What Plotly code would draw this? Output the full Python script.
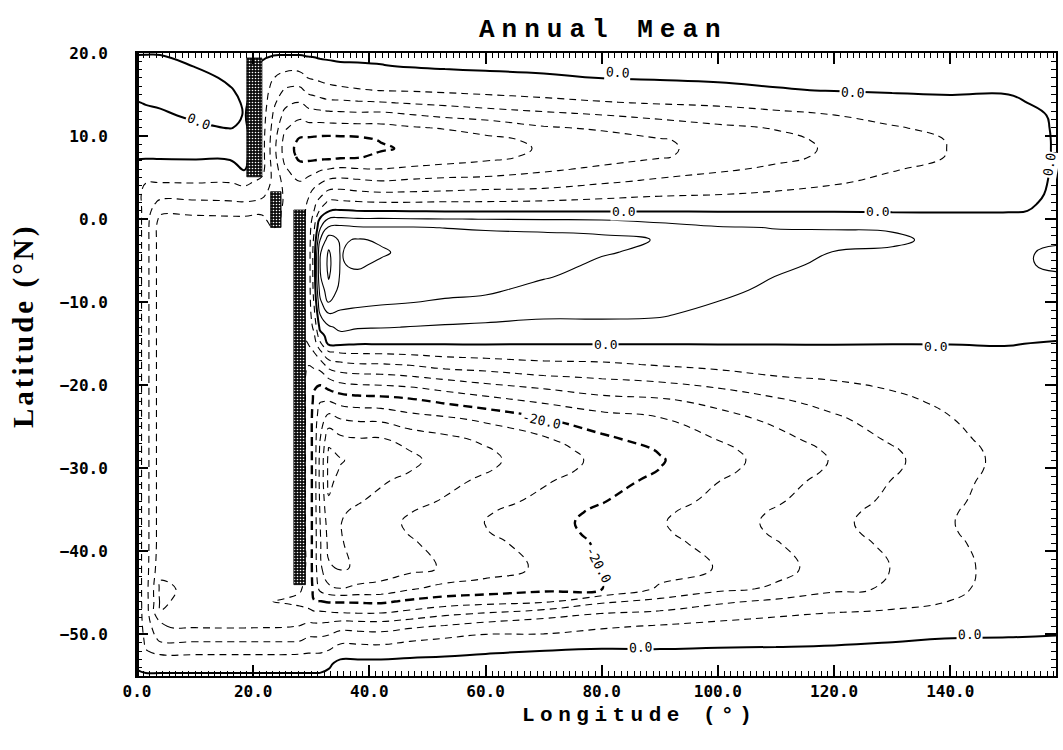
import numpy as np
import plotly.graph_objects as go

# Grid rows (latitude, north to south) and columns (longitude)
lat = [20, 18.5, 17, 15.5, 14, 12.5, 11, 9.5, 8.5, 7.5, 6, 4.5, 3, 2, 1,
       0, -1, -2.5, -4, -5.5, -7, -8.5, -10, -11.5, -13, -14, -15,
       -16, -17.5, -19, -20.5, -22, -24, -26.5, -27.75, -29, -30.25, -31.5,
       -34, -35.25, -36.5, -37.75, -39, -42,
       -44.5, -46, -47.5, -49, -50.5, -52, -53.5, -55]

lon = [0, 1.5, 4, 10, 16, 18.5, 21.5, 23.5, 25.5, 28, 29.5, 30.5, 31.5, 33, 35,
       38, 42, 47, 53, 60, 70, 80, 90, 100, 110, 120, 130, 140, 150, 158.2]

# Annual-mean transport streamfunction along each meridian (same row order as lat)
psi_000 = [0.3, -1.5, -1.5, -1.2, 0.2, 1.2, 1.5, 1.5, 1.3, 0.5, -2.0, -3.0, -2.5, -2.0, -1.5,
           -1.5, -1.5, -1.5, -1.5, -1.5, -1.5, -1.5, -1.5, -1.5, -1.5, -1.5, -1.5,
           -1.5, -1.5, -1.5, -1.5, -1.5, -1.5, -1.5, -1.5, -1.5, -1.5, -1.5,
           -1.5, -1.5, -1.5, -1.5, -1.5, -1.5,
           -1.5, -1.5, -1.5, -1.5, -1.2, -1.0, -0.5, 0.5]
psi_015 = [0.3, -1.8, -1.8, -1.5, -0.2, 1.0, 1.5, 1.6, 1.4, 0.4, -2.2, -3.8, -5.5, -6.0, -6.2,
           -6.3, -6.3, -6.3, -6.3, -6.3, -6.3, -6.3, -6.3, -6.3, -6.3, -6.3, -6.3,
           -6.3, -6.3, -6.3, -6.3, -6.3, -6.3, -6.3, -6.3, -6.3, -6.3, -6.3,
           -6.3, -6.3, -6.3, -6.3, -6.3, -6.3,
           -6.3, -6.2, -6.0, -5.5, -4.8, -3.8, -1.5, 0.5]
psi_040 = [0.3, -1.5, -1.5, -1.2, -0.6, 0.7, 1.5, 1.7, 1.5, 0.5, -2.3, -3.8, -6.6, -8.8, -11.0,
           -13.0, -14, -14, -14, -14, -14, -14, -14, -14, -14, -14, -14,
           -14, -14, -14, -14, -14, -14, -14, -14, -14, -14, -14,
           -14, -14, -14, -14, -14, -14.8,
           -16.8, -16.5, -15.8, -11.9, -9.0, -5.0, -1.5, 0.5]
psi_100 = [1.0, 0.2, -1.2, -1.6, -1.5, -0.8, 0.9, 1.7, 1.6, 0.6, -2.2, -3.7, -6.6, -8.6, -10.8,
           -13.0, -14, -14, -14, -14, -14, -14, -14, -14, -14, -14, -14,
           -14, -14, -14, -14, -14, -14, -14, -14, -14, -14, -14,
           -14, -14, -14, -14, -14, -14.2,
           -15.0, -14.8, -14.2, -12.4, -9.0, -5.0, -1.5, 0.5]
psi_160 = [1.0, 1.0, 0.6, -0.3, -0.8, -0.8, -0.1, 1.2, 1.3, 0.6, -1.8, -3.8, -6.4, -8.4, -10.6,
           -12.8, -14, -14, -14, -14, -14, -14, -14, -14, -14, -14, -14,
           -14, -14, -14, -14, -14, -14, -14, -14, -14, -14, -14,
           -14, -14, -14, -14, -14, -14,
           -14.2, -14.4, -14.0, -12.5, -9.0, -5.0, -1.5, 0.5]
psi_185 = [1.0, 1.0, 1.0, 0.8, 0.3, 0.15, 0.4, 1.0, 1.0, 0.6, 0.2, -3.0, -6.0, -8.2, -10.5,
           -12.8, -14, -14, -14, -14, -14, -14, -14, -14, -14, -14, -14,
           -14, -14, -14, -14, -14, -14, -14, -14, -14, -14, -14,
           -14, -14, -14, -14, -14, -14,
           -14.2, -14.8, -14.0, -12.5, -9.0, -5.0, -1.5, 0.5]
psi_215 = [0.5, -0.3, -0.8, -1.2, -1.5, -1.8, -2.0, -2.2, -2.2, -2.2, -2.5, -5.0, -7.0, -9.0, -11.0,
           -13.0, -14, -14, -14, -14, -14, -14, -14, -14, -14, -14, -14,
           -14, -14, -14, -14, -14, -14, -14, -14, -14, -14, -14,
           -14, -14, -14, -14, -14, -14,
           -14.2, -15.2, -14.0, -12.4, -9.0, -5.0, -1.5, 0.5]
psi_235 = [0.5, -2.0, -3.9, -5.8, -7.2, -8.5, -9.5, -10.3, -10.5, -10.3, -9.5, -9.0, -10.0, -10.0, -10.0,
           -10.0, -11.9, -14, -14, -14, -14, -14, -14, -14, -14, -14, -14,
           -14, -14, -14, -14, -14, -14, -14, -14, -14, -14, -14,
           -14, -14, -14, -14, -14, -14,
           -14.3, -16.1, -14.1, -12.4, -9.0, -5.0, -1.5, 0.5]
psi_255 = [0.5, -2.5, -5.5, -8.5, -11.0, -13.3, -15.5, -17.5, -18.0, -17.5, -15.5, -13.5, -12.5, -12.5, -13.0,
           -13.5, -14, -14, -14, -14, -14, -14, -14, -14, -14, -14, -14,
           -14, -14, -14, -14, -14, -14, -14, -14, -14, -14, -14,
           -14, -14, -14, -14, -14, -14,
           -14.5, -16.4, -14.2, -12.3, -9.0, -5.0, -1.5, 0.5]
psi_280 = [0.5, -2.5, -5.5, -9.0, -12.1, -15.0, -18.0, -20.5, -21.3, -20.8, -18.5, -15.9, -15.0, -14.5, -14.0,
           -14, -14, -14, -14, -14, -14, -14, -14, -14, -14, -14, -14,
           -14, -14, -14, -14, -14, -14, -14, -14, -14, -14, -14,
           -14, -14, -14, -14, -14, -14,
           -15.5, -17.0, -14.4, -11.9, -8.8, -4.8, -1.5, 0.5]
psi_295 = [0.6, -1.5, -3.9, -7.0, -10.5, -14.0, -17.5, -20.8, -21.8, -21.0, -18.0, -14.5, -12.5, -11.5, -11.0,
           -11.0, -10.5, -10.5, -10.5, -10.5, -10.5, -10.5, -10.5, -10.5, -10.5, -10.5, -11.9,
           -14.0, -15.9, -17, -17, -17, -17, -17, -17, -17, -17, -17,
           -17, -17, -17, -17, -17, -17,
           -17.5, -18.0, -14.5, -11.0, -7.5, -4.5, -1.5, 0.5]
psi_305 = [0.6, -1.2, -3.6, -6.5, -10.0, -13.9, -17.5, -21.0, -22.0, -21.0, -17.5, -13.5, -10.5, -9.0, -7.9,
           -6.0, -4.5, -3.0, -2.0, -2.0, -2.0, -2.5, -3.5, -5.0, -7.0, -8.5, -10.0,
           -11.9, -15, -18, -19.9, -21, -22, -22, -22, -22, -22, -22,
           -22, -22, -22, -22, -22, -22,
           -21, -19.9, -15, -11, -7.5, -4.5, -1.5, 0.5]
psi_315 = [0.7, -0.8, -3.2, -6.0, -9.5, -13.8, -17.6, -21.2, -22.3, -21.0, -16.5, -12.5, -9.0, -6.5, -3.5,
           0.5, 3.5, 7.9, 11.5, 11.9, 11.5, 9.5, 7.0, 3.9, 1.0, -1.5, -5.0,
           -9, -14, -18, -21, -23.9, -26, -27.9, -28.5, -29, -29, -29,
           -28.5, -28.2, -27.9, -27.7, -27.5, -27,
           -25, -19.9, -15, -11, -7.5, -4.5, -1.5, 0.5]
psi_330 = [0.8, -0.6, -2.8, -5.2, -9.0, -13.5, -17.6, -21.3, -22.5, -21.0, -15.9, -11.0, -6.5, -3.0, -0.1,
           4.5, 8.5, 14.0, 16.5, 17.0, 16.3, 14.5, 12.3, 7.5, 3.5, 1.5, 0.8,
           -4.4, -10.2, -15.4, -19.9, -24.3, -29.5, -34.8, -36.3, -37.0, -37.0, -37.0,
           -35.6, -34.75, -33.9, -33.45, -33.0, -31.5,
           -27.0, -20.5, -15.3, -10.5, -7.0, -3.8, -0.6, 0.8]
psi_350 = [1.0, -0.4, -2.4, -4.8, -8.9, -13.3, -17.5, -21.2, -22.4, -20.6, -15.3, -10.6, -6.3, -3.3, 0.4,
           4.8, 9.0, 11.5, 11.8, 11.8, 11.6, 11.0, 9.5, 7.1, 4.8, 3.2, 0.6,
           -3.6, -9.1, -13.8, -18.5, -22.9, -27.9, -33.0, -35.2, -36.2, -35.8, -34.8,
           -33.4, -32.5, -32.1, -32.1, -32.2, -32.4,
           -27.9, -20.5, -15.6, -9.4, -5.5, -2.0, 1.0, 1.5]
psi_380 = [1.0, -0.3, -2.2, -4.3, -8.6, -13.1, -17.4, -21.0, -21.9, -20.4, -15.7, -11.1, -6.9, -3.6, -0.05,
           4.4, 8.3, 12.3, 13.0, 12.4, 11.3, 10.0, 8.8, 6.9, 4.3, 2.6, 0.2,
           -3.4, -8.3, -13.3, -17.8, -22.3, -27.3, -32.3, -34.5, -35.4, -35.0, -33.9,
           -32.3, -31.25, -30.8, -30.9, -31.2, -31.6,
           -27.0, -20.6, -15.8, -9.6, -5.6, -2.0, 1.0, 1.5]
psi_420 = [1.0, -0.1, -2.1, -3.9, -8.3, -13.3, -17.2, -19.8, -20.5, -19.0, -15.9, -11.7, -7.3, -3.9, -0.05,
           4.4, 8.2, 11.6, 12.4, 11.5, 10.5, 9.4, 8.4, 6.6, 4.2, 2.3, 0.2,
           -3.3, -8.3, -13.0, -17.5, -22.0, -27.1, -32.4, -33.7, -34.2, -33.7, -32.5,
           -30.9, -29.7, -29.2, -29.4, -29.9, -30.5,
           -26.5, -20.8, -15.7, -9.8, -5.8, -2.1, 1.0, 1.5]
psi_470 = [1.0, 0.3, -1.7, -3.7, -7.7, -12.3, -16.4, -19.0, -19.4, -18.9, -15.2, -11.2, -7.2, -3.9, -0.2,
           4.2, 8.2, 10.6, 11.2, 10.9, 10.2, 9.2, 8.1, 6.1, 3.9, 2.1, 0.2,
           -3.0, -7.7, -12.3, -16.9, -21.1, -25.5, -30.4, -31.9, -32.6, -32.1, -30.9,
           -29.2, -28.1, -27.5, -27.8, -28.4, -29.2,
           -24.4, -19.4, -14.6, -8.7, -4.8, -1.2, 1.0, 1.5]
psi_530 = [1.0, 0.5, -1.2, -3.3, -7.1, -11.2, -15.7, -18.2, -18.5, -18.1, -14.5, -10.8, -7.0, -3.7, -0.3,
           4.1, 7.9, 9.8, 10.5, 10.2, 9.6, 8.9, 7.6, 5.6, 3.6, 1.9, 0.2,
           -2.6, -6.3, -11.1, -15.4, -19.5, -24.6, -29.0, -30.3, -30.9, -30.4, -29.2,
           -27.6, -26.4, -25.9, -26.2, -26.8, -27.6,
           -22.7, -18.3, -12.8, -7.7, -3.9, -0.8, 1.0, 1.5]
psi_600 = [1.0, 0.6, -0.8, -2.9, -6.2, -10.4, -14.6, -16.95, -17.2, -16.95, -14.1, -10.5, -6.5, -3.7, -0.3,
           3.95, 7.6, 9.2, 9.8, 9.6, 9.1, 8.6, 7.2, 5.3, 3.3, 1.8, 0.2,
           -2.1, -5.9, -9.9, -13.9, -17.8, -23.1, -27.3, -28.35, -28.8, -28.3, -27.2,
           -25.6, -24.4, -23.9, -24.2, -25.0, -25.9,
           -22.1, -17.5, -11.6, -6.3, -2.8, -0.3, 1.0, 1.5]
psi_700 = [1.0, 0.7, -0.4, -2.5, -5.1, -9.2, -12.4, -15.3, -15.7, -15.2, -12.6, -9.9, -6.3, -3.4, -0.3,
           3.8, 7.5, 8.8, 9.0, 8.8, 8.2, 7.0, 5.8, 4.6, 2.9, 1.6, 0.1,
           -1.8, -4.9, -8.4, -12.2, -15.6, -20.1, -24.6, -25.6, -26.0, -25.55, -24.5,
           -22.9, -21.85, -21.4, -21.7, -22.4, -23.3,
           -20.9, -16.8, -9.7, -5.3, -3.2, 0.05, 1.0, 1.5]
psi_800 = [1.0, 0.8, 0.05, -1.9, -4.3, -8.1, -11.5, -13.55, -13.8, -13.5, -11.3, -8.5, -5.3, -2.9, -0.3,
           3.6, 7.3, 8.5, 8.2, 7.6, 6.9, 6.2, 5.4, 4.5, 3.1, 1.7, 0.1,
           -1.6, -4.6, -7.6, -10.4, -13.8, -17.5, -20.9, -22.45, -23.1, -22.7, -21.7,
           -20.2, -19.2, -18.8, -18.98, -19.4, -19.8,
           -20.1, -12.8, -7.9, -4.5, -2.2, 0.5, 1.0, 1.5]
psi_900 = [1.0, 0.9, 0.3, -1.6, -3.7, -7.1, -9.9, -12.35, -12.5, -12.3, -9.7, -7.3, -4.5, -2.4, -0.2,
           2.6, 5.8, 7.9, 7.5, 7.0, 6.5, 6.0, 5.3, 4.3, 3.0, 1.8, 0.1,
           -1.4, -3.7, -6.7, -9.9, -12.9, -16.2, -18.3, -19.7, -20.3, -19.9, -19.0,
           -17.6, -16.7, -16.3, -16.55, -17.1, -17.9,
           -15.4, -11.0, -7.1, -3.7, -1.6, 0.3, 1.0, 1.5]
psi_1000 = [1.0, 0.9, 0.5, -0.9, -3.2, -6.2, -8.7, -10.7, -11.0, -10.8, -8.5, -6.4, -4.1, -2.2, -0.2,
            1.8, 4.3, 5.5, 5.6, 5.4, 5.0, 4.6, 3.95, 3.0, 2.1, 1.3, 0.1,
            -1.1, -3.0, -5.4, -8.3, -11.0, -13.4, -15.9, -16.9, -17.3, -16.95, -16.1,
            -15.0, -14.15, -13.8, -14.1, -14.8, -15.8,
            -12.9, -8.8, -5.5, -3.0, -1.1, 0.4, 1.0, 1.5]
psi_1100 = [1.0, 0.9, 0.6, -0.2, -2.4, -5.1, -7.8, -8.85, -9.0, -8.8, -7.4, -5.5, -3.5, -1.9, -0.2,
            1.6, 3.9, 4.7, 4.7, 4.4, 3.95, 3.5, 3.0, 2.4, 1.7, 1.0, 0.1,
            -0.9, -2.6, -4.1, -6.5, -8.8, -11.1, -13.2, -14.2, -14.6, -14.25, -13.5,
            -12.4, -11.6, -11.3, -11.55, -12.2, -13.1,
            -11.5, -7.3, -4.5, -2.6, -0.8, 0.4, 1.0, 1.5]
psi_1200 = [1.0, 0.9, 0.6, 0.1, -1.9, -4.05, -5.8, -7.4, -7.6, -7.4, -5.9, -4.4, -2.8, -1.5, -0.2,
            1.5, 3.9, 4.45, 3.95, 3.6, 3.3, 3.0, 2.6, 2.1, 1.5, 0.9, 0.1,
            -0.8, -2.2, -3.6, -5.0, -6.6, -8.6, -10.3, -11.3, -11.7, -11.4, -10.7,
            -9.8, -9.1, -8.8, -9.05, -9.6, -10.4,
            -8.6, -6.3, -3.8, -2.3, -0.6, 0.5, 1.0, 1.5]
psi_1300 = [1.0, 0.9, 0.6, 0.3, -1.1, -2.8, -4.3, -5.35, -5.5, -5.3, -4.2, -3.2, -2.0, -1.1, -0.3,
            1.4, 3.85, 4.25, 3.8, 3.3, 3.0, 2.8, 2.4, 1.9, 1.3, 0.8, 0.05,
            -0.7, -1.8, -2.9, -3.9, -4.9, -6.1, -7.5, -8.35, -8.7, -8.45, -7.9,
            -7.2, -6.7, -6.5, -6.7, -7.2, -7.9,
            -7.7, -5.3, -3.3, -1.8, -0.2, 0.5, 1.0, 1.5]
psi_1400 = [1.0, 0.8, 0.5, 0.2, -0.35, -2.1, -3.1, -3.85, -3.9, -3.85, -3.1, -2.3, -1.5, -0.9, -0.3,
            1.2, 3.0, 3.6, 3.4, 3.1, 2.8, 2.5, 2.2, 1.8, 1.2, 0.7, 0.05,
            -0.5, -1.2, -1.9, -2.6, -3.3, -4.1, -4.9, -5.45, -5.7, -5.55, -5.2,
            -4.7, -4.35, -4.2, -4.35, -4.7, -5.1,
            -4.8, -3.95, -3.0, -1.6, 0.05, 0.6, 1.0, 1.5]
psi_1500 = [0.8, 0.6, 0.4, 0.1, -0.2, -1.2, -1.9, -2.45, -2.5, -2.45, -1.9, -1.4, -0.9, -0.5, -0.2,
            1.0, 2.5, 3.0, 3.2, 3.2, 2.9, 2.4, 2.0, 1.6, 1.1, 0.6, 0.1,
            -0.3, -0.8, -1.2, -1.6, -2.0, -2.3, -2.6, -2.8, -2.9, -2.8, -2.5,
            -2.2, -1.9, -1.8, -1.9, -2.2, -2.6,
            -2.5, -2.2, -1.6, -0.9, 0.1, 0.6, 1.0, 1.2]
psi_1582 = [0.5, 0.3, 0.3, 0.3, 0.3, 0.3, 0.3, 0.3, 0.3, 0.3, 0.3, 0.3, 0.3, 0.3, 0.3,
            1.0, 2.5, 3.5, 4.6, 4.6, 3.5, 2.5, 2.0, 1.5, 1.0, 0.4, -0.2,
            -0.4, -0.5, -0.5, -0.5, -0.5, -0.5, -0.5, -0.5, -0.5, -0.5, -0.5,
            -0.5, -0.5, -0.5, -0.5, -0.5, -0.6,
            -0.6, -0.5, -0.4, -0.3, 0.1, 0.4, 0.5, 0.5]

# Islands / land barriers (stippled blocks)
land_lon0 = [18.9, 23.0, 27.0]
land_lon1 = [21.5, 24.8, 29.0]
land_lat0 = [5.1, -1.0, -44.0]
land_lat1 = [19.4, 3.3, 1.1]

# Contour levels (Sv)
neg_levels_deep = (-36, -24)
heavy_level = -20
neg_levels_shallow = (-16, -4)
pos_levels = (4, 16)
interval = 4

# Contour labels: value, position on its contour, text angle
label_value = [0, 0, 0, 0, 0, 0, 0, 0, 0, 0, -20, -20]
label_lon = [82.8, 123.2, 10.6, 83.7, 127.5, 80.6, 137.5, 86.6, 143.3, 157.0, 69.6, 79.4]
label_lat = [17.6, 15.2, 11.7, 0.9, 0.9, -15.1, -15.3, -51.6, -50.0, 6.5, -24.2, -41.6]
label_angle = [3, 3, 22, 0, 0, 0, 0, -2, -1, -80, 12, 62]

columns = [psi_000, psi_015, psi_040, psi_100, psi_160, psi_185, psi_215, psi_235,
           psi_255, psi_280, psi_295, psi_305, psi_315, psi_330, psi_350, psi_380,
           psi_420, psi_470, psi_530, psi_600, psi_700, psi_800, psi_900, psi_1000,
           psi_1100, psi_1200, psi_1300, psi_1400, psi_1500, psi_1582]
assert len(columns) == len(lon)
for col in columns:
    assert len(col) == len(lat), len(col)

z = np.array(columns, dtype=float).T[::-1]
y = lat[::-1]


def contour_set(start, end, width, dash):
    return go.Contour(
        x=lon, y=y, z=z, showscale=False, hoverinfo="skip",
        autocontour=False,
        contours=dict(start=start, end=end, size=interval, coloring="none",
                      showlabels=False),
        line=dict(color="black", width=width, dash=dash, smoothing=1.3),
    )


fig = go.Figure()
fig.add_trace(contour_set(*neg_levels_deep, 1.1, "7px,5px"))
fig.add_trace(contour_set(*neg_levels_shallow, 1.1, "7px,5px"))
fig.add_trace(contour_set(heavy_level, heavy_level, 2.4, "9px,5px"))
fig.add_trace(contour_set(*pos_levels, 1.1, "solid"))
fig.add_trace(contour_set(0, 0, 2.0, "solid"))

fig.add_trace(go.Bar(
    x=[(a + b) / 2 for a, b in zip(land_lon0, land_lon1)],
    width=[b - a for a, b in zip(land_lon0, land_lon1)],
    base=land_lat0,
    y=[b - a for a, b in zip(land_lat0, land_lat1)],
    marker=dict(color="black", line=dict(width=0.8, color="black"),
                pattern=dict(shape=".", fgcolor="white", bgcolor="#0d0d0d",
                             size=3, solidity=0.22, fillmode="replace")),
    hoverinfo="skip", showlegend=False,
))

tick_font = dict(family="DejaVu Sans Mono", size=16, color="black", weight="bold")

annotations = [
    dict(text='<span style="letter-spacing:7px">Annual Mean</span>',
         xref="paper", yref="paper", x=0.508, y=1.037, showarrow=False,
         xanchor="center", yanchor="middle",
         font=dict(family="Liberation Mono", size=26, color="black", weight="bold")),
    dict(text='<span style="letter-spacing:5.5px">Longitude (°)</span>',
         xref="paper", yref="paper", x=0.547, y=-0.064, showarrow=False,
         xanchor="center", yanchor="middle",
         font=dict(family="Liberation Mono", size=21, color="black", weight="bold")),
    dict(text='<span style="letter-spacing:3px">Latitude (°N)</span>',
         xref="paper", yref="paper", x=-0.1227, y=0.562, showarrow=False,
         xanchor="center", yanchor="middle", textangle=-90,
         font=dict(family="Liberation Serif", size=29, color="black", weight="bold")),
]
for v, lx, ly, ang in zip(label_value, label_lon, label_lat, label_angle):
    annotations.append(dict(
        text=f"{v:.1f}", x=lx, y=ly, xref="x", yref="y", showarrow=False,
        textangle=ang, bgcolor="white", borderpad=1,
        font=dict(family="DejaVu Sans Mono", size=13, color="black"),
    ))

fig.update_layout(
    width=1063, height=750,
    margin=dict(l=137, r=5, t=53, b=74),
    paper_bgcolor="white", plot_bgcolor="white",
    showlegend=False,
    xaxis=dict(range=[0, 158.2], tick0=0, dtick=20, tickformat=".1f",
               ticks="inside", ticklen=11, tickwidth=1.5, tickcolor="black",
               showline=True, linewidth=1.8, linecolor="black", mirror="allticks",
               showgrid=False, zeroline=False, tickfont=tick_font,
               ticklabelstandoff=0,
               minor=dict(dtick=20 / 18, ticks="inside", ticklen=5, tickwidth=1,
                          tickcolor="black", showgrid=False)),
    yaxis=dict(range=[-55, 20], tick0=0, dtick=10, tickformat=".1f",
               ticks="inside", ticklen=11, tickwidth=1.5, tickcolor="black",
               showline=True, linewidth=1.8, linecolor="black", mirror="allticks",
               showgrid=False, zeroline=False, tickfont=tick_font,
               ticklabelstandoff=24,
               minor=dict(dtick=1, ticks="inside", ticklen=5, tickwidth=1,
                          tickcolor="black", showgrid=False)),
    shapes=[dict(type="line", xref="paper", yref="paper", x0=0, x1=0, y0=0, y1=1,
                 line=dict(color="black", width=4))],
    annotations=annotations,
)

fig.write_html("out.html")
